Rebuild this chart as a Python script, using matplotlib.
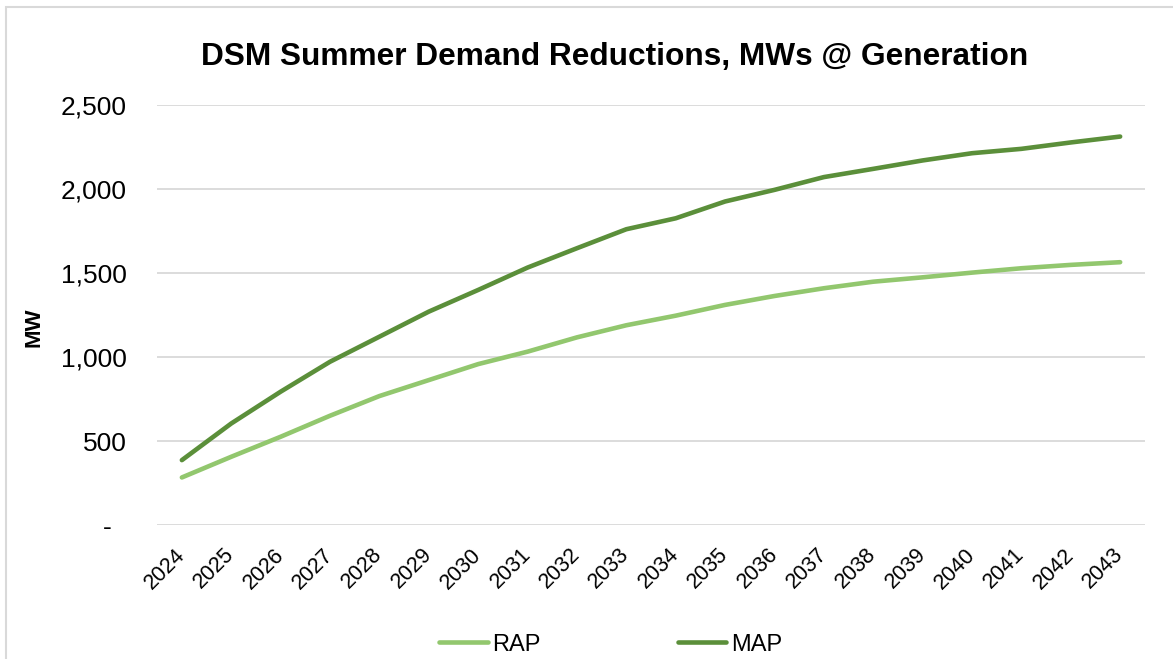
import matplotlib.pyplot as plt
from matplotlib.patches import Rectangle

years = [str(y) for y in range(2024, 2044)]
rap = [284, 407, 526, 651, 768, 863, 958, 1032, 1117, 1189,
       1246, 1310, 1363, 1409, 1448, 1474, 1502, 1528, 1548, 1564]
map_ = [387, 605, 794, 972, 1121, 1270, 1399, 1532, 1647, 1760,
        1825, 1925, 1994, 2070, 2119, 2169, 2212, 2238, 2276, 2311]
yticks = [0, 500, 1000, 1500, 2000, 2500]
ytick_labels = ["-  ", "500", "1,000", "1,500", "2,000", "2,500"]

plt.rcParams['font.family'] = ['Liberation Sans', 'DejaVu Sans']

fig = plt.figure(figsize=(11.73, 6.59), dpi=100)
ax = fig.add_axes([0.134, 0.203, 0.842, 0.638])

x = list(range(len(years)))
ax.plot(x, rap, color='#92C76E', lw=3.3, solid_capstyle='round', label='RAP')
ax.plot(x, map_, color='#5B8F3A', lw=3.3, solid_capstyle='round', label='MAP')

ax.set_xlim(-0.5, len(years) - 0.5)
ax.set_ylim(0, 2500)
ax.set_yticks(yticks)
ax.set_yticklabels(ytick_labels, fontsize=19)
ax.set_xticks(x)
ax.set_xticklabels(years, rotation=45, ha='right', va='center',
                   rotation_mode='anchor', fontsize=15.5)
ax.tick_params(axis='both', length=0)
ax.tick_params(axis='x', pad=19)
ax.tick_params(axis='y', pad=22)
ax.grid(axis='y', color='#d9d9d9', lw=1.3)
ax.set_axisbelow(True)
for s in ax.spines.values():
    s.set_visible(False)

ax.set_ylabel("MW", fontsize=16, fontweight='bold')
ax.yaxis.set_label_coords(-0.114, 0.471)
fig.text(0.524, 0.914, "DSM Summer Demand Reductions, MWs @ Generation",
         ha='center', va='center', fontsize=22.8, fontweight='bold')

fig.legend(loc='center', bbox_to_anchor=(0.5205, 0.022), ncol=2, frameon=False,
           fontsize=17, handlelength=2.05, handletextpad=0.2, columnspacing=5.8)

fig.patches.append(Rectangle((0.005, -0.01), 1.2, 1.0, transform=fig.transFigure,
                             fill=False, edgecolor='#d9d9d9', lw=1.5))

fig.savefig("out.png", dpi=100)
